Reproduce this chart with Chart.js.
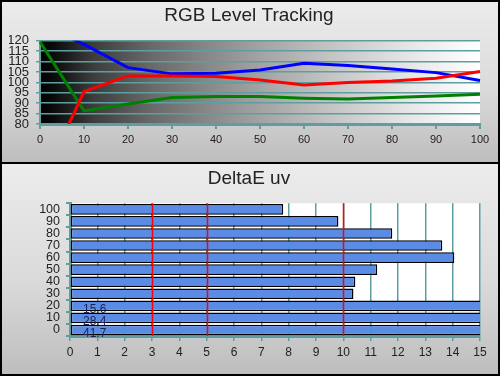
<!DOCTYPE html>
<html>
<head>
<meta charset="utf-8">
<script src="https://cdn.jsdelivr.net/npm/chart.js@4/dist/chart.umd.min.js"></script>
<style>
  html, body { margin: 0; padding: 0; background: #fff; }
  #wrap { position: relative; width: 500px; height: 376px; overflow: hidden; }
  .panel { position: absolute; left: 0; width: 500px; background: linear-gradient(to bottom, #ececec 0%, #dadada 55%, #bdbdbd 100%); }
  #p1 { top: 0; height: 163px; }
  #p2 { top: 164px; height: 212px; }
  #c1 { position: absolute; left: 0; top: 0; }
  #c2 { position: absolute; left: 0; top: 164px; }
  #frame { position: absolute; left: 0; top: 0; width: 500px; height: 376px; box-sizing: border-box; border: 2px solid #000; pointer-events: none; }
  #sep { position: absolute; left: 0; top: 162px; width: 500px; height: 2px; background: #000; }
</style>
</head>
<body>
<div id="wrap">
  <div class="panel" id="p1"></div>
  <div class="panel" id="p2"></div>
  <canvas id="c1" width="500" height="163"></canvas>
  <canvas id="c2" width="500" height="212"></canvas>
  <div id="sep"></div>
  <div id="frame"></div>
</div>
<script>
// ---- Data: RGB Level Tracking ----
const levelLabels = ['0','10','20','30','40','50','60','70','80','90','100'];
const redValues   = [50, 95.6, 103.1, 103.1, 102.8, 101.2, 98.8, 99.9, 100.7, 102.0, 105.2];
const greenValues = [119.5, 86.3, 89.6, 92.7, 93.2, 93.2, 92.4, 92.0, 92.7, 93.5, 94.3];
const blueValues  = [128, 118.3, 107.1, 104.1, 104.4, 106.0, 109.2, 108.1, 106.5, 104.7, 100.9];

// ---- Data: DeltaE uv ----
const deltaCategories = ['0','10','20','30','40','50','60','70','80','90','100'];
const deltaValues = [41.7, 28.4, 15.6, 10.37, 10.44, 11.24, 14.06, 13.62, 11.79, 9.82, 7.80];
const deltaRefLines = [3, 5, 10];

const TEAL = '#5f9ea0';
const TXT = '#222222';

Chart.defaults.font.family = 'Arial, "Liberation Sans", sans-serif';
Chart.defaults.animation = false;

// invisible spacer axis on the right so the plot ends at x=480 while titles stay centred
function spacerAxis(axis) {
  return {
    type: 'linear', position: 'right', axis: axis, display: true,
    grid: { display: false }, border: { display: false },
    ticks: { display: false },
    afterFit(s) { s.width = 9; }
  };
}

const gradientBg = {
  id: 'gradientBg',
  beforeDraw(chart) {
    const a = chart.chartArea, ctx = chart.ctx;
    const g = ctx.createLinearGradient(a.left, 0, a.right, 0);
    g.addColorStop(0, '#000000');
    g.addColorStop(0.03, '#0a0a0a');
    g.addColorStop(0.12, '#3c3c3c');
    g.addColorStop(0.25, '#686868');
    g.addColorStop(0.45, '#989898');
    g.addColorStop(0.65, '#c2c2c2');
    g.addColorStop(0.85, '#e8e8e8');
    g.addColorStop(1, '#ffffff');
    ctx.save();
    ctx.fillStyle = g;
    ctx.fillRect(a.left, a.top, a.right - a.left, a.bottom - a.top);
    ctx.restore();
  }
};

const whiteBg = {
  id: 'whiteBg',
  beforeDraw(chart) {
    const a = chart.chartArea, ctx = chart.ctx;
    ctx.save();
    ctx.fillStyle = '#ffffff';
    ctx.fillRect(a.left, a.top, a.right - a.left, a.bottom - a.top);
    ctx.restore();
  }
};

const refLinesPlugin = {
  id: 'refLines',
  afterDatasetsDraw(chart) {
    const a = chart.chartArea, ctx = chart.ctx, xs = chart.scales.x;
    ctx.save();
    ctx.strokeStyle = '#ff0000';
    ctx.lineWidth = 1.5;
    deltaRefLines.forEach(v => {
      const x = Math.round(xs.getPixelForValue(v)) + 0.5;
      ctx.beginPath();
      ctx.moveTo(x, a.top);
      ctx.lineTo(x, a.bottom);
      ctx.stroke();
    });
    ctx.restore();
  }
};

const overflowLabels = {
  id: 'overflowLabels',
  afterDatasetsDraw(chart) {
    const a = chart.chartArea, ctx = chart.ctx, xs = chart.scales.x;
    const meta = chart.getDatasetMeta(0);
    ctx.save();
    ctx.fillStyle = '#1c2350';
    ctx.font = '12px Arial, "Liberation Sans", sans-serif';
    ctx.textBaseline = 'middle';
    ctx.textAlign = 'left';
    meta.data.forEach((bar, i) => {
      const v = chart.data.datasets[0].data[i];
      if (v > xs.max) {
        ctx.fillText(v.toFixed(1), a.left + 13, bar.y + 4);
      }
    });
    ctx.restore();
  }
};

new Chart(document.getElementById('c1'), {
  type: 'line',
  data: {
    labels: levelLabels,
    datasets: [
      { data: redValues, borderColor: '#ff0000', borderWidth: 3, pointRadius: 0, tension: 0 },
      { data: greenValues, borderColor: '#008000', borderWidth: 3, pointRadius: 0, tension: 0 },
      { data: blueValues, borderColor: '#0000ff', borderWidth: 3, pointRadius: 0, tension: 0 }
    ]
  },
  options: {
    responsive: false,
    devicePixelRatio: 1,
    layout: { padding: { left: 9, right: 11, top: 0, bottom: 0 } },
    plugins: {
      legend: { display: false },
      tooltip: { enabled: false },
      title: {
        display: true, text: 'RGB Level Tracking', color: TXT,
        font: { size: 19, weight: 'normal' },
        padding: { top: 4, bottom: 14 }
      }
    },
    scales: {
      x: {
        type: 'category',
        offset: false,
        afterFit(s) { s.height = 39; },
        grid: { drawOnChartArea: false, drawTicks: true, tickLength: 5, color: TEAL, lineWidth: 2 },
        border: { color: TEAL, width: 3 },
        ticks: { color: TXT, font: { size: 11 }, padding: 4, maxRotation: 0, autoSkip: false }
      },
      y: {
        min: 80, max: 120,
        afterFit(s) { s.width = 31; },
        grid: { color: TEAL, lineWidth: 1.5, tickLength: 4 },
        border: { color: TEAL, width: 2 },
        ticks: { stepSize: 5, color: TXT, font: { size: 13 }, padding: 7, autoSkip: false }
      },
      yPad: spacerAxis('y')
    }
  },
  plugins: [gradientBg]
});

new Chart(document.getElementById('c2'), {
  type: 'bar',
  data: {
    labels: deltaCategories,
    datasets: [{
      data: deltaValues,
      backgroundColor: '#5a8ce6',
      borderColor: '#000000',
      borderWidth: 1.5,
      borderSkipped: false,
      barPercentage: 0.88,
      categoryPercentage: 1.0
    }]
  },
  options: {
    indexAxis: 'y',
    responsive: false,
    devicePixelRatio: 1,
    layout: { padding: { left: 9, right: 11, top: 0, bottom: 0 } },
    plugins: {
      legend: { display: false },
      tooltip: { enabled: false },
      title: {
        display: true, text: 'DeltaE uv', color: TXT,
        font: { size: 19, weight: 'normal' },
        padding: { top: 3, bottom: 13.5 }
      }
    },
    scales: {
      x: {
        type: 'linear', min: 0, max: 15,
        afterFit(s) { s.height = 40; },
        grid: { color: TEAL, lineWidth: 1.5, tickLength: 5 },
        border: { color: TEAL, width: 3 },
        ticks: { stepSize: 1, color: TXT, font: { size: 12 }, padding: 4, maxRotation: 0, autoSkip: false }
      },
      y: {
        reverse: true,
        afterFit(s) { s.width = 61; },
        grid: { drawOnChartArea: false, color: TEAL, lineWidth: 2, tickLength: 4 },
        border: { color: TEAL, width: 3 },
        ticks: { color: TXT, font: { size: 12.5 }, padding: 6, autoSkip: false }
      },
      yPad: spacerAxis('y')
    }
  },
  plugins: [whiteBg, refLinesPlugin, overflowLabels]
});
</script>
</body>
</html>
